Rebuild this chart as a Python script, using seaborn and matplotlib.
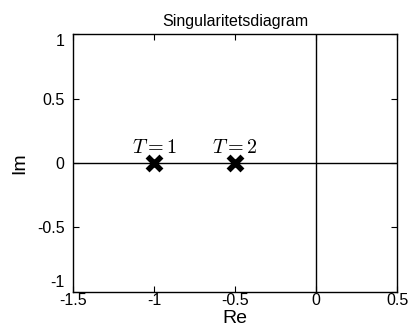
import matplotlib
matplotlib.use("Agg")
import matplotlib.pyplot as plt
import matplotlib.transforms as mtransforms
import seaborn as sns
import pandas as pd

# poles (real, imag) and their labels
pole_re = [-1.0, -0.5]
pole_im = [0.0, 0.0]
pole_labels = ["$T=1$", "$T=2$"]
xticks = [-1.5, -1, -0.5, 0, 0.5]
xticklabels = ["-1.5", "-1", "-0.5", "0", "0.5"]
yticks = [-1, -0.5, 0, 0.5, 1]
yticklabels = ["-1", "-0.5", "0", "0.5", "1"]

sns.set_style("ticks")
plt.rcParams["font.family"] = ["Liberation Sans", "DejaVu Sans"]
plt.rcParams["mathtext.fontset"] = "cm"
plt.rcParams["xtick.direction"] = "in"
plt.rcParams["ytick.direction"] = "in"
plt.rcParams["text.color"] = "black"
plt.rcParams["axes.labelcolor"] = "black"
plt.rcParams["xtick.color"] = "black"
plt.rcParams["ytick.color"] = "black"

df = pd.DataFrame({"Re": pole_re, "Im": pole_im})

fig = plt.figure(figsize=(4.11, 3.28), dpi=100)
ax = fig.add_axes([0.1776, 0.1098, 0.7884, 0.7865])

ax.axhline(0, color="black", lw=1)
ax.axvline(0, color="black", lw=1)
sns.scatterplot(data=df, x="Re", y="Im", marker="x", s=100, color="black",
                linewidth=4, ax=ax, zorder=3)
for xr, yi, lab in zip(pole_re, pole_im, pole_labels):
    ax.text(xr, yi + 0.045, lab, ha="center", va="bottom", fontsize=14.5)

ax.set_xlim(-1.5, 0.5)
ax.set_ylim(-1, 1)
ax.set_xticks(xticks)
ax.set_xticklabels(xticklabels)
ax.set_yticks(yticks)
ax.set_yticklabels(yticklabels)
ax.tick_params(labelsize=11.5, length=4, width=0.8, top=True, right=True)
ax.tick_params(axis="x", pad=1)
ax.tick_params(axis="y", pad=6)
for s in ax.spines.values():
    s.set_linewidth(1)
    s.set_color("black")

# MATLAB-like placement of the end labels on the y axis
ylabs = ax.get_yticklabels()
ylabs[0].set_transform(ylabs[0].get_transform() +
                       mtransforms.ScaledTranslation(0, 8 / 72, fig.dpi_scale_trans))
ylabs[-1].set_transform(ylabs[-1].get_transform() +
                        mtransforms.ScaledTranslation(0, -4 / 72, fig.dpi_scale_trans))

ax.set_xlabel("Re", fontsize=14, labelpad=1)
ax.set_ylabel("Im", fontsize=14, labelpad=6)
ax.set_title("Singularitetsdiagram", fontsize=11.5, pad=6)

fig.savefig("out.png", dpi=100)
